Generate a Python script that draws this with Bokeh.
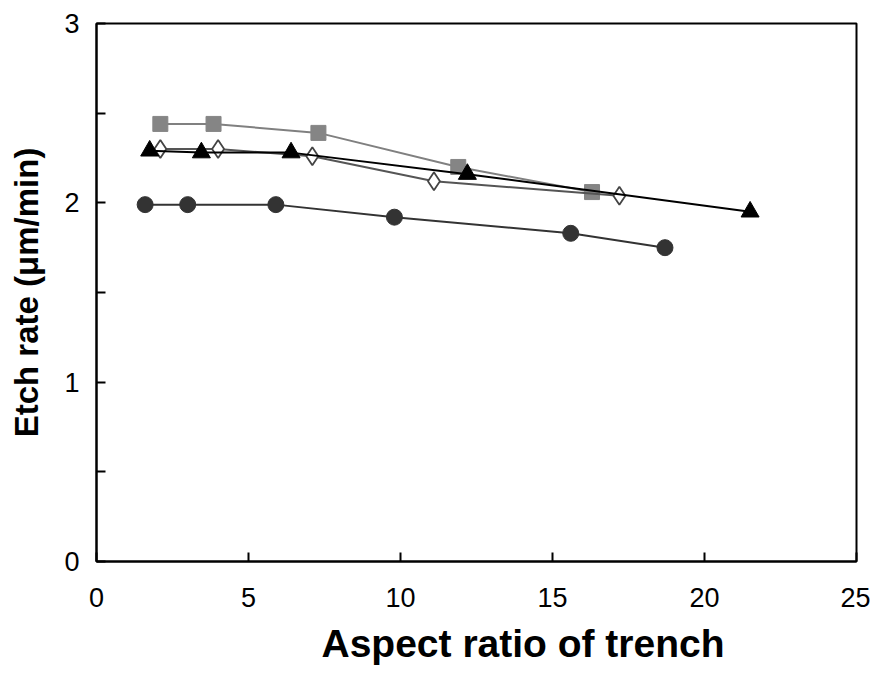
from bokeh.plotting import figure
from bokeh.models import FixedTicker, Range1d, Title
from bokeh.embed import file_html
from bokeh.resources import INLINE

# Data
circle_x = [1.6, 3.0, 5.9, 9.8, 15.6, 18.7]
circle_y = [1.99, 1.99, 1.99, 1.92, 1.83, 1.75]

square_x = [2.1, 3.85, 7.3, 11.9, 16.3]
square_y = [2.44, 2.44, 2.39, 2.20, 2.06]

diamond_x = [2.1, 4.0, 7.1, 11.1, 17.2]
diamond_y = [2.30, 2.30, 2.26, 2.12, 2.04]

triangle_x = [1.75, 3.45, 6.4, 12.2, 21.5]
triangle_y = [2.29, 2.28, 2.28, 2.16, 1.95]

x_ticks = [0, 5, 10, 15, 20, 25]
y_ticks = [0, 1, 2, 3]
y_minor = [0.5, 1.5, 2.5]

p = figure(width=870, height=674, output_backend="svg", toolbar_location=None,
           x_range=Range1d(0, 25), y_range=Range1d(0, 3),
           min_border_left=96, min_border_right=14, min_border_top=23, min_border_bottom=10)

p.xgrid.visible = False
p.ygrid.visible = False
p.outline_line_color = "black"
p.outline_line_width = 2
p.background_fill_color = "white"
p.border_fill_color = "white"

FONT = "Liberation Sans"
for ax in (p.xaxis[0], p.yaxis[0]):
    ax.axis_line_color = "black"
    ax.axis_line_width = 2
    ax.major_tick_line_width = 2
    ax.minor_tick_line_width = 2
    ax.major_tick_in = 9
    ax.major_tick_out = 0
    ax.minor_tick_in = 9
    ax.minor_tick_out = 0
    ax.major_label_text_font = FONT
    ax.major_label_text_font_size = "27px"
    ax.major_label_text_color = "black"
    ax.axis_label_text_font = FONT
    ax.axis_label_text_font_style = "bold"
    ax.axis_label_text_color = "black"

p.yaxis.axis_label_text_font_size = "33px"
p.xaxis.ticker = FixedTicker(ticks=x_ticks)
p.yaxis.ticker = FixedTicker(ticks=y_ticks, minor_ticks=y_minor)
p.xaxis.major_label_standoff = 26
p.yaxis.major_label_standoff = 17
p.yaxis.axis_label = "Etch rate (\u03bcm/min)"
p.yaxis.axis_label_standoff = 16

# x-axis title below the tick labels, slightly right of centre as in the original
xtitle = Title(text="Aspect ratio of trench", align="left", offset=225,
               text_font=FONT, text_font_style="bold", text_font_size="39px",
               text_color="black", standoff=20)
p.add_layout(xtitle, "below")

# Series
p.line(square_x, square_y, line_color="#808080", line_width=2)
p.scatter(square_x, square_y, marker="square", size=15, fill_color="#858585", line_color="#858585")

p.line(diamond_x, diamond_y, line_color="#555555", line_width=2)
p.scatter(diamond_x, diamond_y, marker="diamond", size=18, fill_color="white", line_color="#444444", line_width=1.8)

p.line(triangle_x, triangle_y, line_color="black", line_width=2)
p.scatter(triangle_x, triangle_y, marker="triangle", size=18, fill_color="black", line_color="black")

p.line(circle_x, circle_y, line_color="#333333", line_width=2)
p.scatter(circle_x, circle_y, marker="circle", size=16, fill_color="#333333", line_color="#333333")

open("out.html", "w").write(file_html(p, INLINE))
